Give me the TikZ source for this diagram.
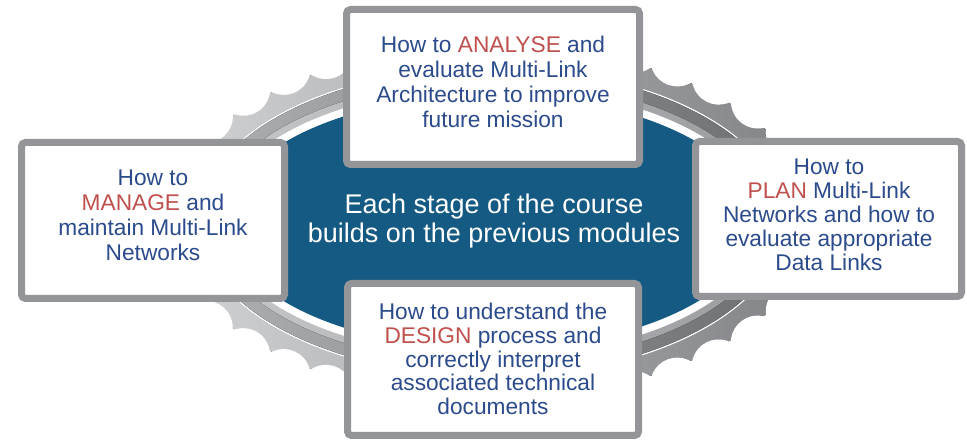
\documentclass[tikz,border=0pt]{standalone}
\usepackage{fontspec}
\setmainfont{Liberation Sans}
\usetikzlibrary{decorations.markings}
\definecolor{blueFill}{HTML}{155A83}
\definecolor{boxGray}{HTML}{939598}
\definecolor{txtBlue}{HTML}{2B4B8C}
\definecolor{txtRed}{HTML}{C0504D}
\definecolor{gearL}{HTML}{D3D4D6}
\definecolor{gearR}{HTML}{7F8184}
\definecolor{bandDL}{HTML}{AEB0B3}
\definecolor{bandDR}{HTML}{6D6E71}
\definecolor{bandLL}{HTML}{C6C7C9}
\definecolor{bandLR}{HTML}{9A9C9F}
\begin{document}
\begin{tikzpicture}[x=1pt,y=1pt,
  card/.style={draw=boxGray, line width=7pt, fill=white, rounded corners=4pt, inner sep=0pt},
  cardtext/.style={align=center, text=txtBlue, font=\fontsize{22.7}{25}\selectfont, inner sep=0pt},
  hl/.style={text=txtRed}
]
\useasboundingbox (0,0) rectangle (967,441);
\fill[white] (0,0) rectangle (967,441);
\coordinate (c) at (491,219);
% gear body
\fill[left color=gearL, right color=gearR] (c) ellipse [x radius=322pt, y radius=177pt];
% notches
\path[decoration={markings, mark=between positions 0 and 0.99 step 0.027027 with {\fill[white] (0pt,-17pt) circle (27pt);}}, decorate] (c) ellipse [x radius=322pt, y radius=177pt];
% rings
\fill[white] (c) ellipse [x radius=293.5pt, y radius=155.5pt];
\fill[left color=bandDL, right color=bandDR] (c) ellipse [x radius=292pt, y radius=154pt];
\fill[left color=bandLL, right color=bandLR] (c) ellipse [x radius=280pt, y radius=142pt];
\fill[white] (c) ellipse [x radius=273pt, y radius=135pt];
\fill[blueFill] (c) ellipse [x radius=265pt, y radius=127pt];
% centre text
\node[align=center, text=white, font=\fontsize{27}{28.5}\selectfont, inner sep=0pt] (hub) at (494,220)
  {Each stage of the course\\builds on the previous modules};
% cards
\node[card, minimum width=293pt, minimum height=155pt] (top) at (493,354) {};
\node[card, minimum width=263pt, minimum height=156pt] (left) at (153,220.5) {};
\node[card, minimum width=266pt, minimum height=155pt] (right) at (828.5,222) {};
\node[card, minimum width=291pt, minimum height=152pt] (bottom) at (493,81.5) {};
\node[cardtext] (ttop) at (493,359.5)
  {How to \textcolor{txtRed}{ANALYSE} and\\evaluate Multi-Link\\Architecture to improve\\future mission};
\node[cardtext] (tleft) at (153,226)
  {How to\\\textcolor{txtRed}{MANAGE} and\\maintain Multi-Link\\Networks};
\node[cardtext, font=\fontsize{22.7}{24}\selectfont] (tright) at (829,226)
  {How to\\\textcolor{txtRed}{PLAN} Multi-Link\\Networks and how to\\evaluate appropriate\\Data Links};
\node[cardtext, font=\fontsize{22.7}{23.6}\selectfont] (tbottom) at (493,82)
  {How to understand the\\\textcolor{txtRed}{DESIGN} process and\\correctly interpret\\associated technical\\documents};
\end{tikzpicture}
\end{document}
